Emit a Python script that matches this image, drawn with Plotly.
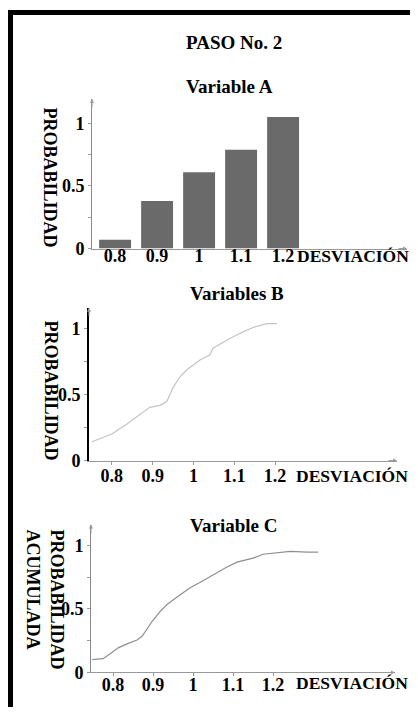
import plotly.graph_objects as go

# ---------------- data ----------------
x_ticks = [0.8, 0.9, 1.0, 1.1, 1.2]
x_tick_text = ["0.8", "0.9", "1", "1.1", "1.2"]
y_ticks = [0, 0.5, 1]
y_tick_text = ["0", "0.5", "1"]
y_minor = [0.25, 0.75]

# Variable A (bars)
a_x = [0.8, 0.9, 1.0, 1.1, 1.2]
a_y = [0.07, 0.38, 0.61, 0.79, 1.05]

# Variables B (curve)
b_x = [0.751, 0.800, 0.837, 0.861, 0.893, 0.918, 0.935, 0.950, 0.967, 0.984,
       0.999, 1.016, 1.040, 1.048, 1.082, 1.114, 1.146, 1.180, 1.205]
b_y = [0.142, 0.201, 0.276, 0.328, 0.403, 0.418, 0.448, 0.552, 0.634, 0.687,
       0.724, 0.761, 0.799, 0.851, 0.910, 0.963, 1.007, 1.037, 1.037]

# Variable C (cumulative curve)
c_x = [0.748, 0.775, 0.793, 0.813, 0.835, 0.860, 0.873, 0.885, 0.898, 0.918,
       0.935, 0.968, 0.993, 1.025, 1.050, 1.085, 1.110, 1.150, 1.175, 1.200,
       1.243, 1.285, 1.313]
c_y = [0.101, 0.109, 0.147, 0.194, 0.225, 0.256, 0.287, 0.341, 0.403, 0.481,
       0.535, 0.612, 0.667, 0.721, 0.767, 0.829, 0.868, 0.899, 0.930, 0.938,
       0.953, 0.946, 0.946]

OFF = 8  # page body margin
W, H = 418 - OFF, 717 - OFF
FONT = "Liberation Serif, DejaVu Serif, serif"

def f(size):
    return dict(family=FONT, size=size, color="black", weight="bold")

fig = go.Figure()
fig.add_trace(go.Bar(x=a_x, y=a_y, width=0.076, marker=dict(color="#6a6a6a", line=dict(width=0)),
                     xaxis="x", yaxis="y", showlegend=False))
fig.add_trace(go.Scatter(x=b_x, y=b_y, mode="lines", line=dict(color="#c4c4c4", width=1.2),
                         xaxis="x2", yaxis="y2", showlegend=False))
fig.add_trace(go.Scatter(x=c_x, y=c_y, mode="lines", line=dict(color="#8f8f8f", width=1.2),
                         xaxis="x3", yaxis="y3", showlegend=False))

def px(v):
    return (v - OFF) / W

def py(v):
    return 1 - (v - OFF) / H

panels = [
    ("", (92, 407), (252, 100), [0.745, 1.495], [0, 1.197], "#8a8a8a", 1, False, -9),
    ("2", (89, 397), (467, 312), [0.744, 1.499], [0, 1.157], "#000000", 2, True, -4),
    ("3", (91, 395), (682, 532), [0.745, 1.505], [0, 1.163], "#8a8a8a", 1, True, -7),
]

layout = dict(
    width=W, height=H, margin=dict(l=0, r=0, t=0, b=0),
    paper_bgcolor="white", plot_bgcolor="white", showlegend=False,
    font=f(17),
)
annotations = []
for suf, (x0, x1), (yb, yt), xr, yr, ylc, ylw, xt, stand in panels:
    xa = "xaxis" + suf
    ya = "yaxis" + suf
    layout[xa] = dict(
        domain=[px(x0), min(1, px(x1))], range=xr, anchor="y" + suf,
        showgrid=False, zeroline=False, showline=True, linecolor="#999999", linewidth=1,
        tickvals=x_ticks, ticktext=x_tick_text,
        ticks="outside" if xt else "", ticklen=3, tickcolor="#999999",
        ticklabelstandoff=stand,
        tickfont=f(18), fixedrange=True,
    )
    layout[ya] = dict(
        domain=[py(yb), py(yt)], range=yr, anchor="x" + suf,
        showgrid=False, zeroline=False, showline=True, linecolor=ylc, linewidth=ylw,
        tickvals=y_ticks, ticktext=y_tick_text,
        ticks="outside", ticklen=3, tickcolor="#999999",
        minor=dict(tickvals=y_minor, ticks="outside", ticklen=3, tickcolor="#999999"),
        tickfont=f(18), fixedrange=True,
    )
    xs = "x" + suf if suf else "x"
    ys = "y" + suf if suf else "y"
    annotations.append(dict(xref=xs + " domain", yref=ys + " domain", x=0, y=1, ax=0, ay=10,
                            showarrow=True, arrowhead=2, arrowsize=0.8, arrowwidth=1,
                            arrowcolor="#999999", text=""))
    annotations.append(dict(xref=xs + " domain", yref=ys + " domain", x=1, y=0, ax=-10, ay=0,
                            showarrow=True, arrowhead=2, arrowsize=0.8, arrowwidth=1,
                            arrowcolor="#999999", text=""))

def txt(text, x, y, size, angle=0, align="center"):
    annotations.append(dict(xref="paper", yref="paper", x=px(x), y=py(y), text=text,
                            showarrow=False, font=f(size), textangle=angle, align=align,
                            xanchor="center", yanchor="middle"))

txt("PASO No. 2", 234, 43, 19)
txt("Variable A", 229, 88, 19)
txt("Variables B", 237, 298, 19)
txt("Variable C", 233, 533, 19)
txt("DESVIACIÓN", 353, 260, 17.5)
txt("DESVIACIÓN", 352, 483, 17.5)
txt("DESVIACIÓN", 352, 693, 17.5)
txt("PROBABILIDAD", 50, 180, 18, 90)
txt("PROBABILIDAD", 51, 396, 18, 90)
txt("PROBABILIDAD<br>ACUMULADA", 45, 608, 18, 90, align="left")

layout["annotations"] = annotations
layout["shapes"] = [
    dict(type="line", xref="paper", yref="paper", x0=0, x1=1.0, y0=py(12.5), y1=py(12.5),
         line=dict(color="black", width=5)),
    dict(type="line", xref="paper", yref="paper", x0=px(10.5), x1=px(10.5), y0=py(10), y1=0,
         line=dict(color="black", width=5)),
]
fig.update_layout(**layout)
fig.write_html("out.html")
